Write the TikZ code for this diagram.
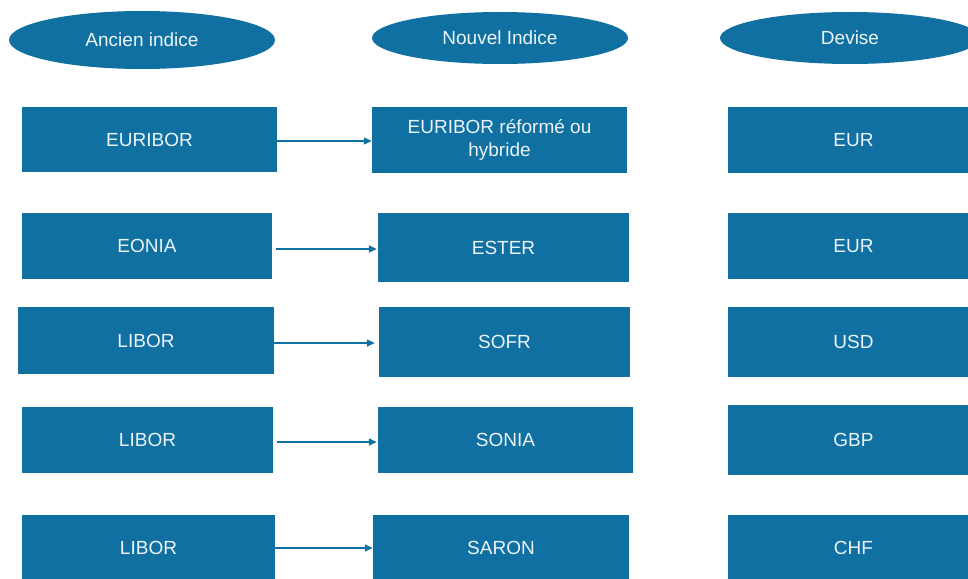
\documentclass[tikz,border=0pt]{standalone}
\usepackage{fontspec}
\setmainfont{Liberation Sans}
\usetikzlibrary{arrows.meta,shapes.geometric}
\definecolor{boxblue}{RGB}{16,112,161}
\definecolor{boxtext}{RGB}{236,244,249}
\tikzset{
  head/.style={ellipse, fill=boxblue, text=boxtext, inner sep=0pt, font=\fontsize{19}{23}\selectfont},
  cell/.style={rectangle, fill=boxblue, text=boxtext, inner sep=0pt, align=center, font=\fontsize{19}{23}\selectfont},
  arr/.style={draw=boxblue, line width=1.3pt, -{Triangle[length=8pt,width=7pt]}}
}
\begin{document}
\begin{tikzpicture}[x=1pt,y=-1pt]
\clip (0,0) rectangle (968,578);
\fill[white] (0,0) rectangle (968,578);
% headers
\node[head, minimum width=266, minimum height=58] (e1) at (142,40) {Ancien indice};
\node[head, minimum width=256, minimum height=52] (e2) at (500,38) {Nouvel Indice};
\node[head, minimum width=260, minimum height=52] (e3) at (850,38) {Devise};
% column 1
\node[cell, minimum width=255, minimum height=65] (a1) at (149.5,139.5) {EURIBOR};
\node[cell, minimum width=250, minimum height=66] (a2) at (147,246) {EONIA};
\node[cell, minimum width=256, minimum height=67] (a3) at (146,340.5) {LIBOR};
\node[cell, minimum width=251, minimum height=66] (a4) at (147.5,440) {LIBOR};
\node[cell, minimum width=253, minimum height=66] (a5) at (148.5,548) {LIBOR};
% column 2
\node[cell, minimum width=255, minimum height=66] (b1) at (499.5,140) {EURIBOR réformé ou\\hybride};
\node[cell, minimum width=251, minimum height=69] (b2) at (503.5,247.5) {ESTER};
\node[cell, minimum width=251, minimum height=70] (b3) at (504.5,342) {SOFR};
\node[cell, minimum width=255, minimum height=66] (b4) at (505.5,440) {SONIA};
\node[cell, minimum width=256, minimum height=66] (b5) at (501,548) {SARON};
% column 3
\node[cell, minimum width=251, minimum height=66] (c1) at (853.5,140) {EUR};
\node[cell, minimum width=251, minimum height=66] (c2) at (853.5,246) {EUR};
\node[cell, minimum width=251, minimum height=70] (c3) at (853.5,342) {USD};
\node[cell, minimum width=251, minimum height=70] (c4) at (853.5,440) {GBP};
\node[cell, minimum width=251, minimum height=66] (c5) at (853.5,548) {CHF};
% arrows
\draw[arr] (a1.east |- 0,141) -- (b1.west |- 0,141);
\draw[arr] ([xshift=4pt]a2.east |- 0,249) -- ([xshift=-1pt]b2.west |- 0,249);
\draw[arr] (a3.east |- 0,343) -- ([xshift=-4pt]b3.west |- 0,343);
\draw[arr] ([xshift=4pt]a4.east |- 0,442) -- ([xshift=-1pt]b4.west |- 0,442);
\draw[arr] (a5.east |- 0,548) -- (b5.west |- 0,548);
\end{tikzpicture}
\end{document}
